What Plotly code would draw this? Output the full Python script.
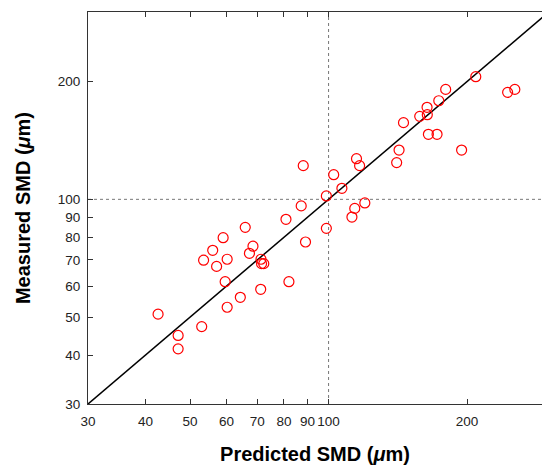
import numpy as np
import plotly.graph_objects as go

# Predicted vs. measured Sauter mean diameter (micrometres)
predicted_smd = [42.6, 47.1, 47.1, 53.0, 53.5, 56.0, 57.1, 59.0, 59.6, 60.2,
                 60.2, 64.3, 65.9, 67.3, 68.5, 71.2, 71.3, 71.5, 72.3, 80.8,
                 82.0, 87.2, 88.1, 89.1, 98.9, 98.9, 102.6, 106.9, 112.4, 114.0,
                 115.0, 116.8, 119.9, 140.6, 142.3, 145.5, 157.8, 163.7, 163.9, 164.8,
                 172.1, 173.6, 179.7, 194.6, 208.9, 245.0, 254.0]
measured_smd = [50.9, 44.9, 41.5, 47.3, 69.9, 74.1, 67.4, 79.8, 61.6, 70.3,
                53.0, 56.2, 84.8, 72.8, 75.9, 58.9, 70.3, 68.5, 68.5, 88.9,
                61.6, 96.2, 121.9, 77.8, 102.0, 84.3, 115.6, 106.7, 90.1, 94.8,
                127.0, 121.9, 97.9, 124.1, 133.6, 157.0, 162.9, 171.8, 164.5, 146.6,
                146.6, 178.6, 190.9, 133.6, 205.7, 187.6, 190.9]

# Perfect-agreement line and the 100 um guide lines
parity = [30, 320]
guide_value = 100
guide_span = [30, 320]

tick_values = [30, 40, 50, 60, 70, 80, 90, 100, 200]
tick_labels = ["30", "40", "50", "60", "70", "80", "90", "100", "200"]

FONT = "Liberation Sans, Arial, Helvetica, sans-serif"

fig = go.Figure()

fig.add_trace(go.Scatter(x=[guide_value, guide_value], y=guide_span, mode="lines",
                         line=dict(color="#777777", width=1, dash="dot"),
                         hoverinfo="skip", showlegend=False))
fig.add_trace(go.Scatter(x=guide_span, y=[guide_value, guide_value], mode="lines",
                         line=dict(color="#777777", width=1, dash="dot"),
                         hoverinfo="skip", showlegend=False))
fig.add_trace(go.Scatter(x=parity, y=parity, mode="lines",
                         line=dict(color="black", width=1.5),
                         hoverinfo="skip", showlegend=False))
fig.add_trace(go.Scatter(x=predicted_smd, y=measured_smd, mode="markers",
                         marker=dict(symbol="circle-open", size=10,
                                     color="#ff0000", line=dict(width=1.2, color="#ff0000")),
                         showlegend=False))

axis_common = dict(type="log", showgrid=False, zeroline=False, showline=True,
                   linecolor="#333333", linewidth=1, ticks="inside", ticklen=5,
                   tickcolor="#333333", tickvals=tick_values, ticktext=tick_labels,
                   tickfont=dict(family=FONT, size=13.5, color="#222222"))

fig.update_layout(
    width=542, height=466,
    margin=dict(l=88, r=0, t=12, b=62),
    paper_bgcolor="white", plot_bgcolor="white",
    xaxis=dict(axis_common, range=[np.log10(30), np.log10(291)], mirror="ticks",
               ticklabelstandoff=5,
               title=dict(text="Predicted SMD (<i>μ</i>m)",
                          font=dict(family=FONT, size=20, color="black", weight="bold"),
                          standoff=18)),
    yaxis=dict(axis_common, range=[np.log10(30), np.log10(301)],
               ticklabelstandoff=4,
               title=dict(text="Measured SMD (<i>μ</i>m)",
                          font=dict(family=FONT, size=20, color="black", weight="bold"),
                          standoff=21)),
)

fig.write_html("out.html")
